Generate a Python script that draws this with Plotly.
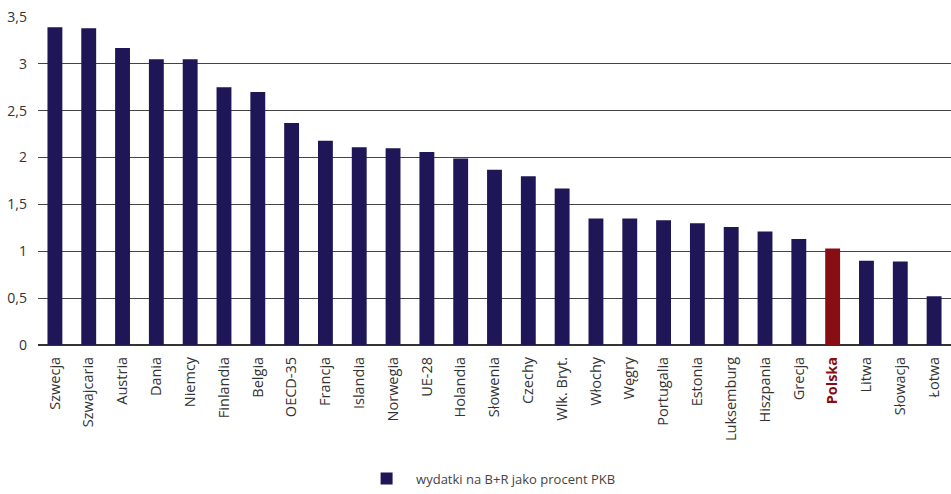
import plotly.graph_objects as go

categories = ["Szwecja", "Szwajcaria", "Austria", "Dania", "Niemcy", "Finlandia", "Belgia",
              "OECD-35", "Francja", "Islandia", "Norwegia", "UE-28", "Holandia", "Słowenia",
              "Czechy", "Wlk. Bryt.", "Włochy", "Węgry", "Portugalia", "Estonia", "Luksemburg",
              "Hiszpania", "Grecja", "Polska", "Litwa", "Słowacja", "Łotwa"]
values = [3.39, 3.38, 3.17, 3.05, 3.05, 2.75, 2.70, 2.37, 2.18, 2.11, 2.10, 2.06, 1.99, 1.87,
          1.80, 1.67, 1.35, 1.35, 1.33, 1.30, 1.26, 1.21, 1.13, 1.03, 0.90, 0.89, 0.52]
highlight = "Polska"
series_name = "wydatki na B+R jako procent PKB"
y_ticks = [0, 0.5, 1, 1.5, 2, 2.5, 3, 3.5]

NAVY = "#1E1656"
RED = "#870F14"

colors = [RED if c == highlight else NAVY for c in categories]
ticktext = [f"<b><span style='color:{RED}'>{c}</span></b>" if c == highlight else c
            for c in categories]

fig = go.Figure()
fig.add_trace(go.Bar(x=categories, y=values, name=series_name,
                     marker=dict(color=colors, line=dict(width=0)),
                     width=0.44, showlegend=True))

fig.update_layout(
    width=951, height=494,
    margin=dict(l=38, r=0, t=17, b=145),
    plot_bgcolor="white", paper_bgcolor="white",
    separators=", ",
    font=dict(family="Open Sans", size=12, color="#333333"),
    showlegend=True,
    legend=dict(orientation="h", x=0.3495, xanchor="left", y=-0.407, yanchor="middle",
                font=dict(size=13, color="#444444"), itemwidth=49),
    xaxis=dict(tickmode="array", tickvals=categories, ticktext=ticktext, tickangle=-90,
               showgrid=False, showline=False, ticks="", automargin=False,
               ticklabelstandoff=8,
               tickfont=dict(size=14.5, color="#333333"),
               range=[-0.5, len(categories) - 0.5]),
    yaxis=dict(range=[0, 3.5], tickvals=y_ticks, showgrid=True, gridcolor="#444444", gridwidth=1,
               zeroline=True, zerolinecolor="#333333", zerolinewidth=1.5, automargin=False,
               ticks="", ticklabelstandoff=10, ticklabeloverflow="allow",
               tickfont=dict(size=14, color="#333333")),
)

fig.write_html("out.html", config={"displayModeBar": False},
               post_script="document.body.style.margin='0';document.body.style.overflow='hidden';")
